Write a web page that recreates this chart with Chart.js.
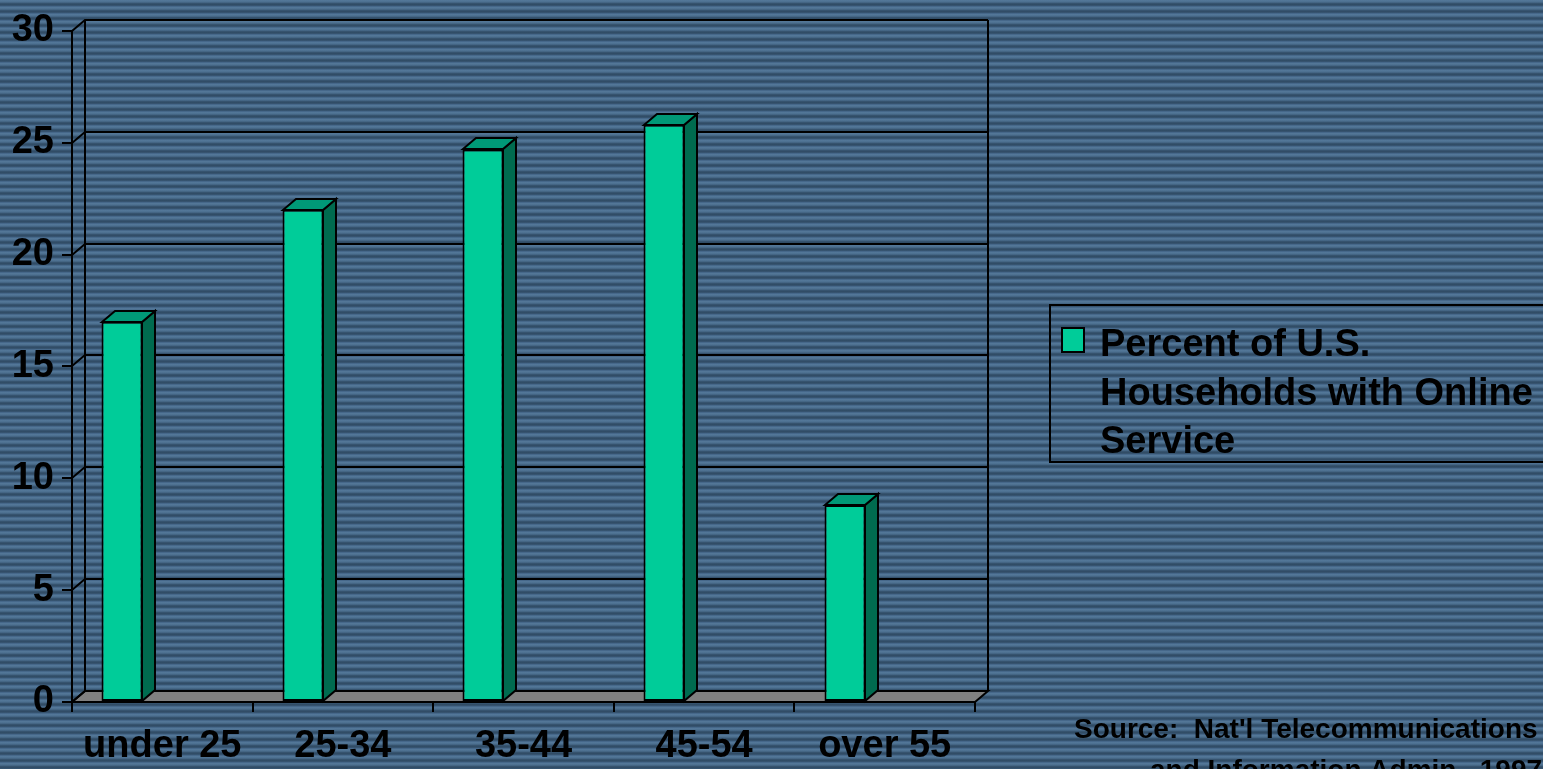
<!DOCTYPE html>
<html>
<head>
<meta charset="utf-8">
<script src="https://cdn.jsdelivr.net/npm/chart.js@4.4.1/dist/chart.umd.min.js"></script>
<style>
html, body { margin: 0; padding: 0; overflow: hidden; }
body {
  width: 1543px; height: 769px;
  background: repeating-linear-gradient(to bottom, #55799a 0px, #4c6f8f 2px, #36536e 3.5px, #2e4962 5px, #46688a 6.5px, #55799a 7px);
}
canvas { display: block; }
</style>
</head>
<body>
<canvas id="chart" width="1543" height="769"></canvas>
<script>
const categories = ['under 25', '25-34', '35-44', '45-54', 'over 55'];
const percentOnline = [17, 22, 24.7, 25.8, 8.8];
const yTicks = [0, 5, 10, 15, 20, 25, 30];
const seriesLabel = 'Percent of U.S. Households with Online Service';
const sourceLines = ["Source:  Nat'l Telecommunications", 'and Information Admin., 1997'];

const FONT = '"Liberation Sans", Arial, sans-serif';
const DX = 13, DY = 11;   // depth of the 3d walls and bars
const BAR_COLOR = '#00cc99', BAR_SIDE = '#006b4f', BAR_TOP = '#009977';

const R = v => Math.round(v);

function poly(ctx, pts, fill) {
  ctx.beginPath();
  ctx.moveTo(R(pts[0][0]), R(pts[0][1]));
  for (let i = 1; i < pts.length; i++) ctx.lineTo(R(pts[i][0]), R(pts[i][1]));
  ctx.closePath();
  if (fill) { ctx.fillStyle = fill; ctx.fill(); }
  ctx.stroke();
}

const walls3d = {
  id: 'walls3d',
  afterDatasetUpdate(chart, args) {
    // push the bars to the left part of each category, like the original
    const x = chart.scales.x;
    const catW = x.getPixelForValue(1) - x.getPixelForValue(0);
    args.meta.data.forEach(el => { el.x = Math.round(el.x - catW * 0.222); });
  },
  beforeDatasetsDraw(chart) {
    const { ctx, chartArea: { left, right, top, bottom } } = chart;
    const y = chart.scales.y;
    ctx.save();
    ctx.strokeStyle = '#000';
    ctx.lineWidth = 2;
    // floor
    poly(ctx, [[left, bottom], [right, bottom], [right + DX, bottom - DY], [left + DX, bottom - DY]], '#808080');
    // gridlines on side + back wall
    yTicks.forEach(v => {
      if (v === 0) return;
      const py = R(y.getPixelForValue(v));
      ctx.beginPath();
      ctx.moveTo(R(left), py);
      ctx.lineTo(R(left + DX), py - DY);
      ctx.lineTo(R(right + DX), py - DY);
      ctx.stroke();
    });
    ctx.beginPath();
    ctx.moveTo(R(left + DX), R(top - DY)); ctx.lineTo(R(left + DX), R(bottom - DY));
    ctx.moveTo(R(right + DX), R(top - DY)); ctx.lineTo(R(right + DX), R(bottom - DY));
    ctx.moveTo(R(left), R(bottom)); ctx.lineTo(R(left + DX), R(bottom - DY));
    ctx.stroke();
    ctx.restore();
  },
  afterDatasetsDraw(chart) {
    const ctx = chart.ctx;
    ctx.save();
    ctx.strokeStyle = '#000';
    ctx.lineWidth = 2;
    chart.getDatasetMeta(0).data.forEach(el => {
      const l = el.x - el.width / 2, r = el.x + el.width / 2;
      const t = el.y, b = el.base;
      poly(ctx, [[r, t], [r + DX, t - DY], [r + DX, b - DY], [r, b]], BAR_SIDE);
      poly(ctx, [[l, t], [l + DX, t - DY], [r + DX, t - DY], [r, t]], BAR_TOP);
    });
    ctx.restore();
  },
  afterDraw(chart) {
    const ctx = chart.ctx;
    ctx.save();
    // legend
    ctx.strokeStyle = '#000';
    ctx.lineWidth = 2;
    ctx.strokeRect(1050, 305, 520, 157);
    ctx.fillStyle = BAR_COLOR;
    ctx.fillRect(1062, 328, 22, 24);
    ctx.strokeRect(1062, 328, 22, 24);
    ctx.font = 'bold 38px ' + FONT;
    ctx.fillStyle = '#000';
    ctx.textBaseline = 'alphabetic';
    const words = chart.data.datasets[0].label.split(' ');
    const lines = [];
    let cur = '';
    words.forEach(w => {
      const test = cur ? cur + ' ' + w : w;
      if (ctx.measureText(test).width > 445 && cur) { lines.push(cur); cur = w; }
      else cur = test;
    });
    lines.push(cur);
    lines.forEach((ln, i) => ctx.fillText(ln, 1100, 356 + i * 48.5));
    // source note
    ctx.font = 'bold 28px ' + FONT;
    ctx.fillText(sourceLines[0], 1074, 738);
    ctx.fillText(sourceLines[1], 1150, 779);
    ctx.restore();
  }
};

new Chart(document.getElementById('chart'), {
  type: 'bar',
  data: {
    labels: categories,
    datasets: [{
      label: seriesLabel,
      data: percentOnline,
      backgroundColor: BAR_COLOR,
      borderColor: '#000',
      borderWidth: 2,
      borderSkipped: false,
      barPercentage: 0.227,
      categoryPercentage: 1
    }]
  },
  options: {
    responsive: false,
    animation: false,
    layout: { padding: { top: 26, right: 568, left: 0, bottom: 0 } },
    plugins: { legend: { display: false }, tooltip: { enabled: false } },
    scales: {
      x: {
        offset: true,
        grid: { offset: true, drawOnChartArea: false, drawTicks: true, tickLength: 10, color: '#000', lineWidth: 2 },
        border: { display: true, color: '#000', width: 2 },
        ticks: { color: '#000', font: { family: FONT, size: 38, weight: 'bold' }, padding: 12, maxRotation: 0, autoSkip: false },
        afterFit: s => { s.height = 67; }
      },
      y: {
        min: 0,
        max: 30,
        afterBuildTicks: s => { s.ticks = yTicks.map(v => ({ value: v })); },
        grid: { drawOnChartArea: false, drawTicks: true, tickLength: 10, color: '#000', lineWidth: 2 },
        border: { display: true, color: '#000', width: 2 },
        ticks: { color: '#000', font: { family: FONT, size: 38, weight: 'bold' }, padding: 8 },
        afterFit: s => { s.width = 72; }
      }
    }
  },
  plugins: [walls3d]
});
</script>
</body>
</html>
